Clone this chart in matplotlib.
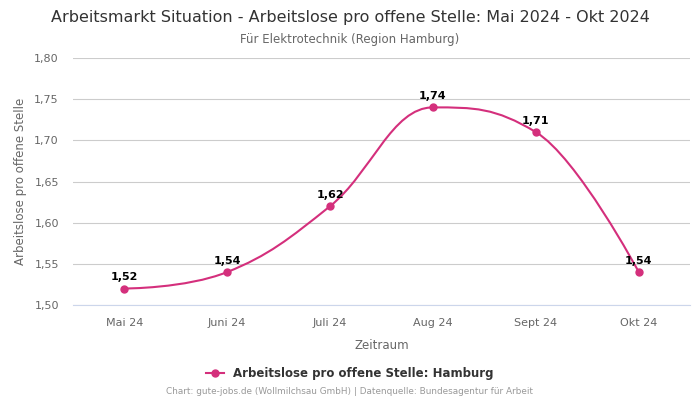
import matplotlib
matplotlib.use('Agg')
import matplotlib.pyplot as plt
from matplotlib.path import Path
from matplotlib.patches import PathPatch
from matplotlib.lines import Line2D

months = ['Mai 24', 'Juni 24', 'Juli 24', 'Aug 24', 'Sept 24', 'Okt 24']
values = [1.52, 1.54, 1.62, 1.74, 1.71, 1.54]
color = '#d42f7c'


def spline_path(xs, ys, smoothing=1.5):
    # Highcharts-style spline: bezier control points per point
    denom = smoothing + 1
    n = len(xs)
    left = [(xs[i], ys[i]) for i in range(n)]
    right = [(xs[i], ys[i]) for i in range(n)]
    for i in range(1, n - 1):
        lx, ly = xs[i - 1], ys[i - 1]
        px, py = xs[i], ys[i]
        nx, ny = xs[i + 1], ys[i + 1]
        lcx = (smoothing * px + lx) / denom
        lcy = (smoothing * py + ly) / denom
        rcx = (smoothing * px + nx) / denom
        rcy = (smoothing * py + ny) / denom
        corr = (rcy - lcy) * (rcx - px) / (rcx - lcx) + py - rcy
        lcy += corr
        rcy += corr
        if lcy > ly and lcy > py:
            lcy = max(ly, py)
            rcy = 2 * py - lcy
        elif lcy < ly and lcy < py:
            lcy = min(ly, py)
            rcy = 2 * py - lcy
        if rcy > ny and rcy > py:
            rcy = max(ny, py)
            lcy = 2 * py - rcy
        elif rcy < ny and rcy < py:
            rcy = min(ny, py)
            lcy = 2 * py - rcy
        left[i] = (lcx, lcy)
        right[i] = (rcx, rcy)
    verts = [(xs[0], ys[0])]
    codes = [Path.MOVETO]
    for i in range(1, n):
        verts += [right[i - 1], left[i], (xs[i], ys[i])]
        codes += [Path.CURVE4] * 3
    return Path(verts, codes)


fig = plt.figure(figsize=(7, 4), dpi=100)
ax = fig.add_axes([0.104, 0.2375, 0.882, 0.6175])

x = list(range(len(months)))
ax.add_patch(PathPatch(spline_path(x, values), facecolor='none',
                       edgecolor=color, lw=1.5, zorder=3))
ax.plot(x, values, 'o', color=color, ms=5, zorder=4)
for xi, v in zip(x, values):
    ax.annotate(f'{v:.2f}'.replace('.', ','), (xi, v), xytext=(0, 4.5),
                textcoords='offset points', ha='center', va='bottom',
                fontsize=8, fontweight='bold', color='black', zorder=5)

ax.set_xlim(-0.5, 5.5)
ax.set_ylim(1.50, 1.80)
yt = [1.50, 1.55, 1.60, 1.65, 1.70, 1.75, 1.80]
ax.set_yticks(yt)
ax.set_yticklabels([f'{t:.2f}'.replace('.', ',') for t in yt])
ax.set_xticks(x)
ax.set_xticklabels(months)
ax.tick_params(axis='both', length=0, labelsize=8, colors='#666666')
ax.tick_params(axis='x', pad=9)
ax.tick_params(axis='y', pad=10)
ax.grid(axis='y', color='#cccccc', lw=0.8)
ax.set_axisbelow(True)
for s in ['top', 'right', 'left']:
    ax.spines[s].set_visible(False)
ax.spines['bottom'].set_color('#ccd6eb')
ax.spines['bottom'].set_linewidth(0.8)

ax.set_xlabel('Zeitraum', fontsize=8.5, color='#666666', labelpad=8)
ax.set_ylabel('Arbeitslose pro offene Stelle', fontsize=8.5, color='#666666', labelpad=5)

fig.text(0.5, 0.957, 'Arbeitsmarkt Situation - Arbeitslose pro offene Stelle: Mai 2024 - Okt 2024',
         ha='center', va='center', fontsize=11.5, color='#333333')
fig.text(0.5, 0.902, 'Für Elektrotechnik (Region Hamburg)',
         ha='center', va='center', fontsize=8.5, color='#666666')

handle = Line2D([], [], color=color, marker='o', ms=5, lw=1.5)
fig.legend([handle], ['Arbeitslose pro offene Stelle: Hamburg'], loc='center',
           bbox_to_anchor=(0.5, 0.067), frameon=False, handlelength=1.5,
           prop={'size': 8.5, 'weight': 'bold'}, labelcolor='#333333')
fig.text(0.5, 0.02, 'Chart: gute-jobs.de (Wollmilchsau GmbH) | Datenquelle: Bundesagentur für Arbeit',
         ha='center', va='center', fontsize=6.4, color='#999999')

fig.savefig('out.png', dpi=100)
